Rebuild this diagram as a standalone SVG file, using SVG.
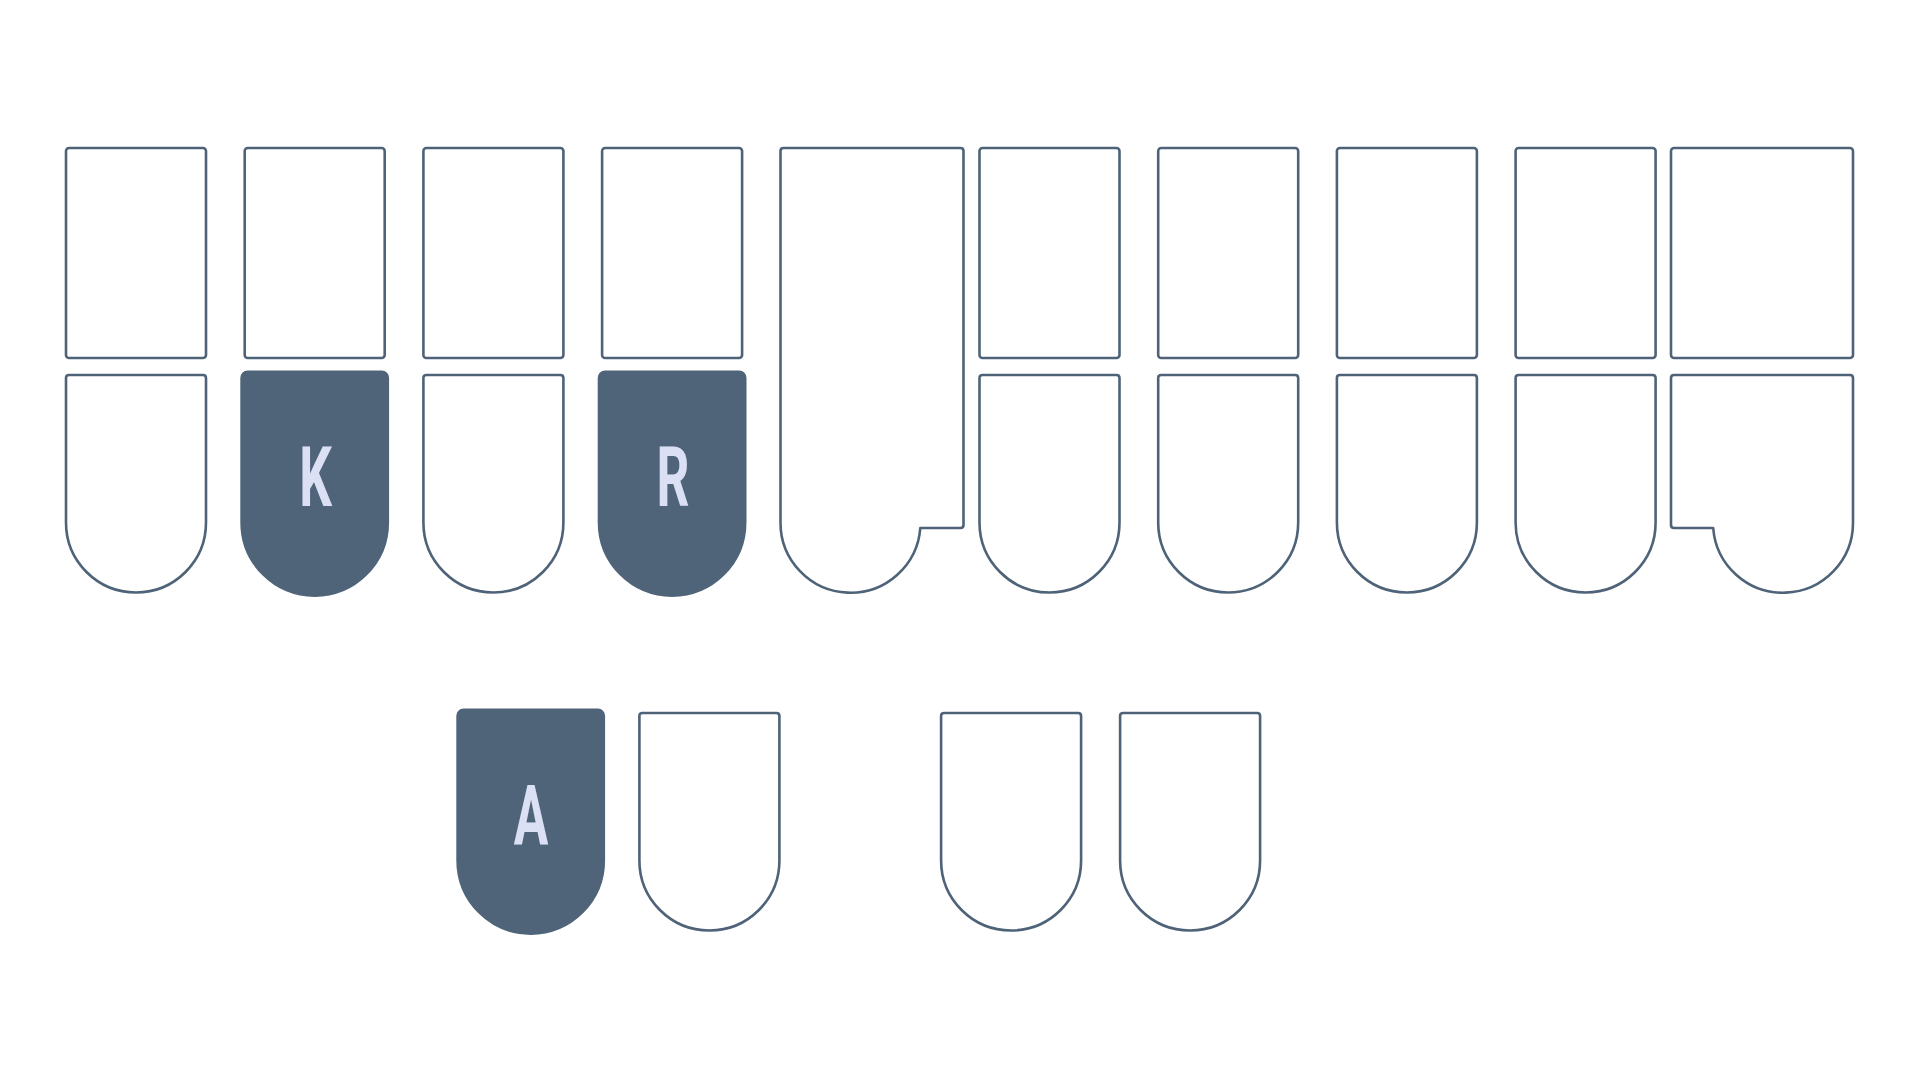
<svg xmlns="http://www.w3.org/2000/svg" xmlns:xlink="http://www.w3.org/1999/xlink" width="1920" height="1080" viewBox="0 0 1920 1080">
<style>
.k{fill:#ffffff;stroke:#4e6378;stroke-width:2.6;stroke-linejoin:round}
.on{fill:#4f6479;stroke:#4f6479;stroke-width:8.8;stroke-linejoin:round}
.lbl{fill:#dbe0f5;font-family:Roboto,"Liberation Sans",Arial,sans-serif;font-weight:700;font-size:83px;text-anchor:middle}
</style>
<defs>
<rect id="top" x="0" y="0" width="140" height="210" rx="3"/>
<path id="low" d="M0,147.5 V3 Q0,0 3,0 H137 Q140,0 140,3 V147.5 A70,70 0 0 1 0,147.5 Z"/>
</defs>
<rect width="1920" height="1080" fill="#ffffff"/>
<g id="upper-row">
<g id="key-S-top"><use xlink:href="#top" class="k" x="66" y="148"/></g>
<g id="key-T"><use xlink:href="#top" class="k" x="244.7" y="148"/></g>
<g id="key-P"><use xlink:href="#top" class="k" x="423.4" y="148"/></g>
<g id="key-H"><use xlink:href="#top" class="k" x="602.1" y="148"/></g>
<g id="key-star"><path class="k" d="M780.5,522.5 V151 Q780.5,148 783.5,148 H960.5 Q963.5,148 963.5,151 V525 Q963.5,528 960.5,528 H920.3 A70,70 0 0 1 780.5,522.5 Z"/></g>
<g id="key-F"><use xlink:href="#top" class="k" x="979.5" y="148"/></g>
<g id="key-P2"><use xlink:href="#top" class="k" x="1158.2" y="148"/></g>
<g id="key-L"><use xlink:href="#top" class="k" x="1336.9" y="148"/></g>
<g id="key-T2"><use xlink:href="#top" class="k" x="1515.6" y="148"/></g>
<g id="key-D"><rect class="k" x="1671" y="148" width="182" height="210" rx="3"/></g>
</g>
<g id="lower-row">
<g id="key-S-low"><use xlink:href="#low" class="k" x="66" y="375"/></g>
<g id="key-K"><use xlink:href="#low" class="on" x="244.7" y="375"/><text class="lbl" transform="translate(315.5,506) scale(0.62,1)">K</text></g>
<g id="key-W"><use xlink:href="#low" class="k" x="423.4" y="375"/></g>
<g id="key-R"><use xlink:href="#low" class="on" x="602.1" y="375"/><text class="lbl" transform="translate(673,506) scale(0.62,1)">R</text></g>
<g id="key-R2"><use xlink:href="#low" class="k" x="979.5" y="375"/></g>
<g id="key-B"><use xlink:href="#low" class="k" x="1158.2" y="375"/></g>
<g id="key-G"><use xlink:href="#low" class="k" x="1336.9" y="375"/></g>
<g id="key-S2"><use xlink:href="#low" class="k" x="1515.6" y="375"/></g>
<g id="key-Z"><path class="k" d="M1671,378 Q1671,375 1674,375 H1850 Q1853,375 1853,378 V522.5 A70,70 0 0 1 1713.2,528 H1674 Q1671,528 1671,525 Z"/></g>
</g>
<g id="vowel-row">
<g id="key-A"><use xlink:href="#low" class="on" x="460.7" y="713"/><text class="lbl" transform="translate(531,845) scale(0.62,1)">A</text></g>
<g id="key-O"><use xlink:href="#low" class="k" x="639.4" y="713"/></g>
<g id="key-E"><use xlink:href="#low" class="k" x="941.1" y="713"/></g>
<g id="key-U"><use xlink:href="#low" class="k" x="1120.1" y="713"/></g>
</g>
<g id="connectors"/>
</svg>
